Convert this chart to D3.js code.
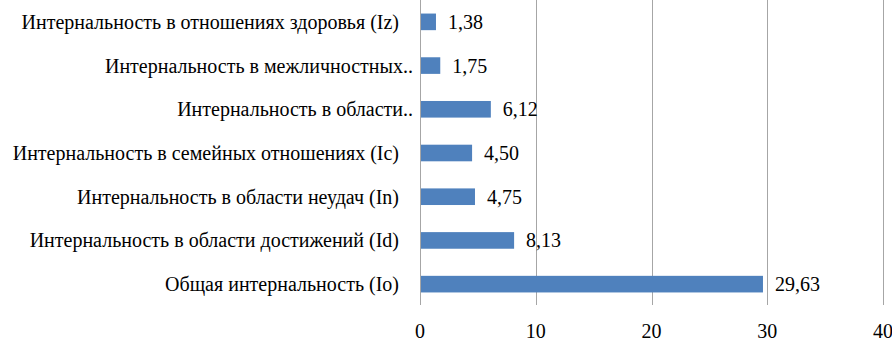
<!DOCTYPE html>
<meta charset="utf-8">
<body style="margin:0">
<svg width="892" height="344"></svg>
<script src="https://d3js.org/d3.v7.min.js"></script>
<script>

// categories top to bottom
var labels = [
  "Интернальность в отношениях здоровья (Iz)",
  "Интернальность в межличностных..",
  "Интернальность в области..",
  "Интернальность в семейных отношениях (Ic)",
  "Интернальность в области неудач (In)",
  "Интернальность в области достижений (Id)",
  "Общая интернальность (Io)"
];
var values = [1.38, 1.75, 6.12, 4.50, 4.75, 8.13, 29.63];
var ticks = [0, 10, 20, 30, 40];

var FONT = "'Liberation Serif', 'Times New Roman', serif";

var svg = d3.select("svg");

var x = d3.scaleLinear()
    .domain([0, 40])
    .range([420, 883]);

var y = d3.scaleBand()
    .domain(labels)
    .range([0, 306])
    .paddingInner(0.62)
    .paddingOuter(0.31);

var fmt = function(v) { return d3.format(".2f")(v).replace(".", ","); };

// gridlines
svg.append("g")
  .selectAll("line")
  .data(ticks)
  .enter().append("line")
    .attr("x1", function(d) { return Math.round(x(d)) + 0.5; })
    .attr("x2", function(d) { return Math.round(x(d)) + 0.5; })
    .attr("y1", 0)
    .attr("y2", 305)
    .attr("stroke", "#a6a6a6")
    .attr("stroke-width", 1);

// bars
svg.append("g")
  .selectAll("rect")
  .data(values)
  .enter().append("rect")
    .attr("x", x(0) + 1)
    .attr("y", function(d, i) { return y(labels[i]); })
    .attr("width", function(d) { return x(d) - x(0) - 1; })
    .attr("height", y.bandwidth())
    .attr("fill", "#4f81bd");

// value labels
svg.append("g")
  .selectAll("text")
  .data(values)
  .enter().append("text")
    .attr("x", function(d) { return x(d) + 12; })
    .attr("y", function(d, i) { return y(labels[i]) + y.bandwidth() / 2 + 7; })
    .attr("font-size", 20)
    .style("font-family", FONT)
    .text(fmt);

// category labels
svg.append("g")
  .selectAll("text")
  .data(labels)
  .enter().append("text")
    .attr("x", function(d) { return /\.\.$/.test(d) ? 413 : 399; })
    .attr("y", function(d) { return y(d) + y.bandwidth() / 2 + 7; })
    .attr("text-anchor", "end")
    .attr("font-size", 20)
    .style("font-family", FONT)
    .text(function(d) { return d; });

// x tick labels
svg.append("g")
  .selectAll("text")
  .data(ticks)
  .enter().append("text")
    .attr("x", function(d) { return x(d); })
    .attr("y", 338)
    .attr("text-anchor", "middle")
    .attr("font-size", 20)
    .style("font-family", FONT)
    .text(function(d) { return d; });

// make sure the serif face is loaded, then re-apply it
if (document.fonts && document.fonts.load) {
  document.fonts.load("20px 'Liberation Serif'", "Интернальность 0123").then(function() {
    svg.selectAll("text").style("font-family", FONT);
  });
}

</script>
